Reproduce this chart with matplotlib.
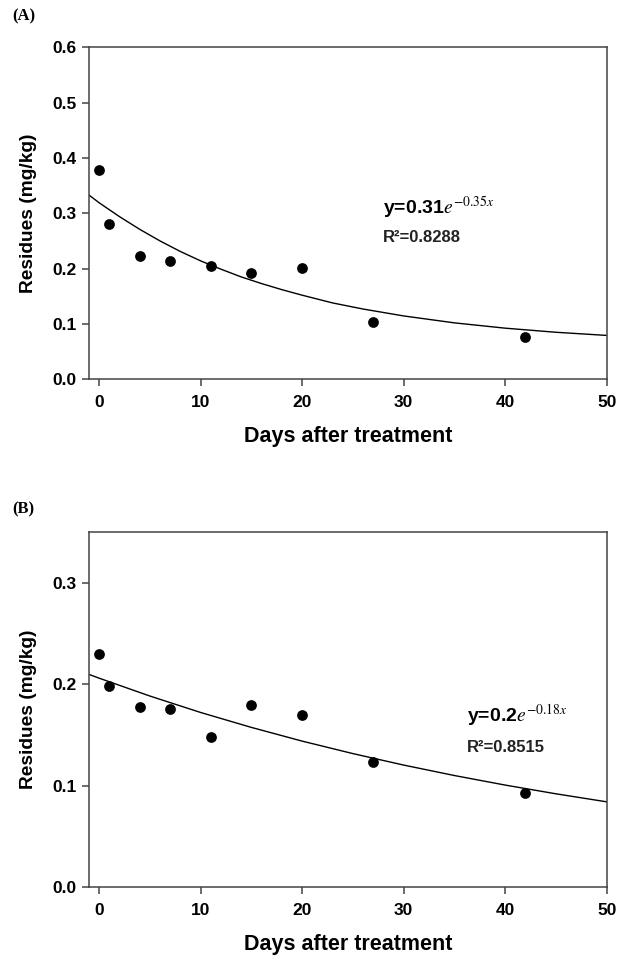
#!/usr/bin/env python3
"""
Residue dissipation curves (A, B): measured residues vs days after treatment,
with fitted exponential decay line.
"""
import matplotlib
import matplotlib.pyplot as plt

matplotlib.use("Agg")

plt.rcParams.update({
    "font.family": ["Liberation Sans", "DejaVu Sans"],
    "mathtext.fontset": "stix",
    "axes.linewidth": 1.1,
    "axes.edgecolor": "#444444",
    "xtick.color": "#444444",
    "ytick.color": "#444444",
    "xtick.labelcolor": "black",
    "ytick.labelcolor": "black",
})

# ---- data ----
DAYS = [0, 1, 4, 7, 11, 15, 20, 27, 42]

RESIDUE_A = [0.378, 0.280, 0.223, 0.213, 0.204, 0.192, 0.202, 0.104, 0.076]
RESIDUE_B = [0.230, 0.198, 0.178, 0.176, 0.148, 0.180, 0.170, 0.123, 0.093]

# fitted line
FIT_X_A = [-1, 0, 2, 4, 6, 8, 10, 12, 14, 16, 18, 20, 23, 26, 30, 35, 40, 45, 50]
FIT_Y_A = [0.333, 0.319, 0.294, 0.271, 0.250, 0.231, 0.214, 0.199, 0.185,
           0.173, 0.162, 0.152, 0.138, 0.127, 0.1145, 0.102, 0.0924, 0.085, 0.0793]

FIT_X_B = [-1, 0, 5, 10, 15, 20, 25, 30, 35, 40, 45, 50]
FIT_Y_B = [0.2097, 0.206, 0.1884, 0.1722, 0.1575, 0.144, 0.1317, 0.1204,
           0.1101, 0.1007, 0.0921, 0.0842]

EQ_A = r"y=0.31$e^{-0.35x}$"
R2_A = "R²=0.8288"
EQ_B = r"y=0.2$e^{-0.18x}$"
R2_B = "R²=0.8515"

X_TICKS = [0, 10, 20, 30, 40, 50]
Y_TICKS_A = [0.0, 0.1, 0.2, 0.3, 0.4, 0.5, 0.6]
Y_TICKS_B = [0.0, 0.1, 0.2, 0.3]

W, H = 626, 959
fig = plt.figure(figsize=(W / 100, H / 100), dpi=100)


def panel(rect, x, y, fx, fy, yticks, ylim, eq, r2, eq_xy, r2_xy, tag, tag_y):
    ax = fig.add_axes(rect)
    ax.scatter(x, y, s=60, color="black", zorder=3, linewidths=0)
    ax.plot(fx, fy, color="black", linewidth=1.0, zorder=2)
    ax.set_xlim(-1, 50)
    ax.set_ylim(*ylim)
    ax.set_xticks(X_TICKS)
    ax.set_yticks(yticks)
    ax.set_yticklabels([f"{v:.1f}" for v in yticks])
    ax.tick_params(direction="out", length=5, width=1.1, labelsize=12.5, top=False, right=False)
    ax.tick_params(axis="x", pad=6)
    ax.tick_params(axis="y", pad=4)
    for lbl in ax.get_xticklabels() + ax.get_yticklabels():
        lbl.set_fontweight("bold")
    ax.set_xlabel("Days after treatment", fontsize=15.5, fontweight="bold", labelpad=12)
    ax.set_ylabel("Residues (mg/kg)", fontsize=13.8, fontweight="bold", labelpad=11)

    ax.text(eq_xy[0] / W, 1 - eq_xy[1] / H, eq, transform=fig.transFigure,
            fontsize=14, fontweight="bold", ha="left", va="baseline")
    ax.text(r2_xy[0] / W, 1 - r2_xy[1] / H, r2, transform=fig.transFigure,
            fontsize=12, fontweight="bold", color="#222222", ha="left", va="baseline")
    fig.text(12 / W, 1 - tag_y / H, tag, fontsize=12, fontweight="bold",
             family=["Liberation Serif", "DejaVu Serif"], ha="left", va="center")
    return ax


panel([89 / W, 1 - 379.3 / H, 517.7 / W, 332 / H], DAYS, RESIDUE_A, FIT_X_A, FIT_Y_A,
      Y_TICKS_A, (0, 0.6), EQ_A, R2_A, (383, 214), (383, 242), "(A)", 16)
panel([89 / W, 1 - 887.3 / H, 517.7 / W, 355.3 / H], DAYS, RESIDUE_B, FIT_X_B, FIT_Y_B,
      Y_TICKS_B, (0, 0.35), EQ_B, R2_B, (467, 722), (467, 752), "(B)", 509)

fig.savefig("out.png", dpi=100)
